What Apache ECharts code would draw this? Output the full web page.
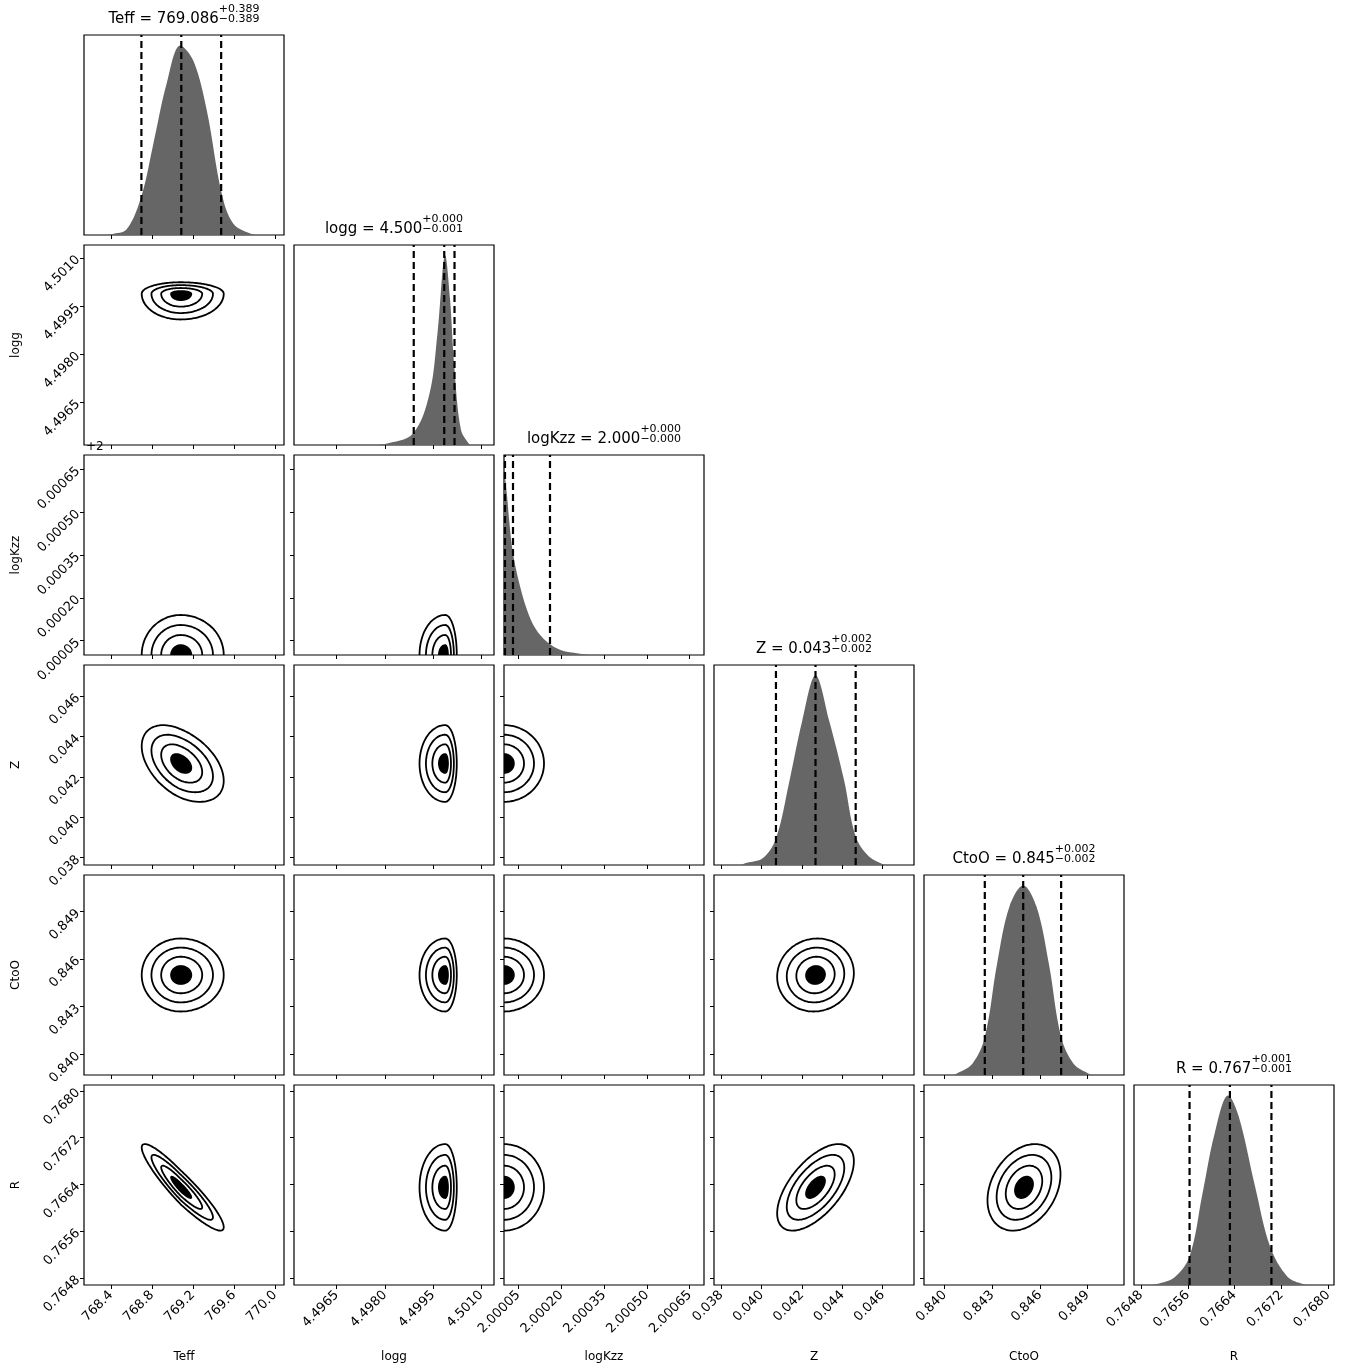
<!DOCTYPE html>
<html><head><meta charset="utf-8">
<script src="https://cdn.jsdelivr.net/npm/echarts@6/dist/echarts.min.js"></script>
<style>html,body{margin:0;padding:0;background:#fff}#c{width:1348px;height:1369px}</style>
</head><body><div id="c"></div>
<script>
// ---------- data ----------
const names = ['Teff', 'logg', 'logKzz', 'Z', 'CtoO', 'R'];
const titleMain = ['Teff = 769.086', 'logg = 4.500', 'logKzz = 2.000', 'Z = 0.043', 'CtoO = 0.845', 'R = 0.767'];
const titleUp = ['+0.389', '+0.000', '+0.000', '+0.002', '+0.002', '+0.001'];
const titleDn = ['\u22120.389', '\u22120.001', '\u22120.000', '\u22120.002', '\u22120.002', '\u22120.001'];
const axisMin = [768.137, 4.49517, 0.0, 0.03764, 0.8387, 0.76468];
const axisMax = [770.088, 4.5014, 0.0007, 0.04755, 0.8513, 0.7681];
const ticksTeff = [768.4, 768.8, 769.2, 769.6, 770.0];
const ticksLogg = [4.4965, 4.4980, 4.4995, 4.5010];
const ticksLogKzz = [0.00005, 0.0002, 0.00035, 0.0005, 0.00065]; // offset from 2
const ticksZ = [0.038, 0.040, 0.042, 0.044, 0.046];
const ticksCtoO = [0.840, 0.843, 0.846, 0.849];
const ticksR = [0.7648, 0.7656, 0.7664, 0.7672, 0.7680];
const quantTeff = [768.697, 769.086, 769.475];
const quantLogg = [4.49890, 4.49985, 4.50017];
const quantLogKzz = [0.0000035, 0.0000315, 0.000161];
const quantZ = [0.04071, 0.04267, 0.04466];
const quantCtoO = [0.84253, 0.84495, 0.84734];
const quantR = [0.76563, 0.76632, 0.76703];
// histogram outlines (value, relative height)
const histTeffX = [768.35, 768.407, 768.553, 768.700, 768.813, 768.944, 769.077, 769.203, 769.334, 769.480, 769.594, 769.779, 769.83];
const histTeffY = [0, 0.004, 0.03, 0.21, 0.48, 0.80, 1.0, 0.92, 0.66, 0.22, 0.06, 0.004, 0];
const histLoggX = [4.4977, 4.49799, 4.49887, 4.49939, 4.49964, 4.49988, 4.50003, 4.50016, 4.50037, 4.50063, 4.5007];
const histLoggY = [0, 0.005, 0.06, 0.27, 0.59, 1.0, 0.77, 0.42, 0.08, 0.004, 0];
const histLogKzzX = [0.0, 0.00001, 0.00002, 0.00003, 0.00005, 0.00008, 0.00011, 0.00015, 0.0002, 0.00026, 0.0003];
const histLogKzzY = [1.0, 0.85, 0.68, 0.55, 0.40, 0.24, 0.14, 0.07, 0.025, 0.008, 0];
const histZX = [0.0390, 0.03922, 0.04005, 0.04071, 0.04139, 0.04201, 0.04267, 0.04335, 0.04408, 0.04466, 0.04532, 0.04604, 0.0462];
const histZY = [0, 0.01, 0.035, 0.14, 0.45, 0.76, 1.0, 0.76, 0.45, 0.15, 0.045, 0.003, 0];
const histCtoOX = [0.8405, 0.84065, 0.84175, 0.84253, 0.84331, 0.84409, 0.84495, 0.84578, 0.84656, 0.84734, 0.84812, 0.84917, 0.8493];
const histCtoOY = [0, 0.003, 0.06, 0.20, 0.59, 0.89, 1.0, 0.89, 0.59, 0.20, 0.06, 0.003, 0];
const histRX = [0.7650, 0.76507, 0.76537, 0.76563, 0.76585, 0.76606, 0.76629, 0.76647, 0.76675, 0.76701, 0.76730, 0.76758, 0.7677];
const histRY = [0, 0.005, 0.04, 0.15, 0.48, 0.80, 1.0, 0.89, 0.52, 0.20, 0.045, 0.004, 0];
// contour shape parameters
const centre = [769.08, 4.49988, 0.0, 0.04267, 0.84500, 0.76635];
const spreadLo = [0.19, 0.00040, 0.00007, 0.00095, 0.00115, 0.00037];
const spreadHi = [0.21, 0.00018, 0.00007, 0.00095, 0.00115, 0.00037];
const corrPairs = [ // [row var, col var, correlation]
  [1, 0, 0.0], [2, 0, 0.0], [2, 1, 0.0], [3, 0, -0.45], [3, 1, 0.0], [3, 2, 0.0],
  [4, 0, 0.0], [4, 1, 0.0], [4, 2, 0.0], [4, 3, 0.05],
  [5, 0, -0.92], [5, 1, 0.0], [5, 2, 0.0], [5, 3, 0.6], [5, 4, 0.3]
];
const contourLevels = [2, 1.5, 1, 0.5];

const ticks = [ticksTeff, ticksLogg, ticksLogKzz, ticksZ, ticksCtoO, ticksR];
const quants = [quantTeff, quantLogg, quantLogKzz, quantZ, quantCtoO, quantR];
const histX = [histTeffX, histLoggX, histLogKzzX, histZX, histCtoOX, histRX];
const histY = [histTeffY, histLoggY, histLogKzzY, histZY, histCtoOY, histRY];

// ---------- layout ----------
const L0 = 84, T0 = 35, S = 200, G = 210, N = 6, YTOP = 1.055;
const FONT = 'DejaVu Sans';
function fmt(i, v, isX) {
  if (i === 0) return v.toFixed(1);
  if (i === 1) return v.toFixed(4);
  if (i === 2) return isX ? (2 + v).toFixed(5) : v.toFixed(5);
  if (i === 3) return v.toFixed(3);
  if (i === 4) return v.toFixed(3);
  return v.toFixed(4);
}
const grid = [], xAxis = [], yAxis = [], series = [], graphic = [];
function addPanel(row, col, diag) {
  const gi = grid.length;
  grid.push({left: L0 + G * col, top: T0 + G * row, width: S, height: S,
    show: true, borderColor: '#000', borderWidth: 1.2, backgroundColor: '#fff'});
  const bottom = row === N - 1;
  xAxis.push({type: 'value', gridIndex: gi, min: axisMin[col], max: axisMax[col],
    axisLine: {show: false}, splitLine: {show: false},
    axisTick: {show: true, length: 4, inside: false, customValues: ticks[col], lineStyle: {color: '#000', width: 1}},
    axisLabel: {show: bottom, customValues: ticks[col], rotate: 45, margin: 8, fontFamily: FONT, fontSize: 13, color: '#000',
      formatter: v => fmt(col, v, true)},
    name: bottom ? names[col] : '', nameLocation: 'middle', nameGap: 66,
    nameTextStyle: {fontFamily: FONT, fontSize: 12, color: '#000'}});
  if (diag) {
    yAxis.push({type: 'value', gridIndex: gi, min: 0, max: YTOP, show: true,
      axisLine: {show: false}, splitLine: {show: false}, axisTick: {show: false}, axisLabel: {show: false}});
  } else {
    const left = col === 0;
    yAxis.push({type: 'value', gridIndex: gi, min: axisMin[row], max: axisMax[row],
      axisLine: {show: false}, splitLine: {show: false},
      axisTick: {show: true, length: 4, customValues: ticks[row], lineStyle: {color: '#000', width: 1}},
      axisLabel: {show: left, customValues: ticks[row], rotate: 45, margin: 6, fontFamily: FONT, fontSize: 13, color: '#000',
        formatter: v => fmt(row, v, false)},
      name: left ? names[row] : '', nameLocation: 'middle', nameGap: 62, nameRotate: 90,
      nameTextStyle: {fontFamily: FONT, fontSize: 12, color: '#000'}});
  }
  return gi;
}

// diagonal panels
for (let i = 0; i < N; i++) {
  const gi = addPanel(i, i, true);
  series.push({type: 'line', xAxisIndex: gi, yAxisIndex: gi, smooth: 0.35, symbol: 'none',
    data: histX[i].map((x, k) => [x, histY[i][k]]),
    lineStyle: {width: 0}, areaStyle: {color: '#666666', opacity: 1}, silent: true, clip: true});
  quants[i].forEach(q => {
    series.push({type: 'line', xAxisIndex: gi, yAxisIndex: gi, symbol: 'none', silent: true, clip: true,
      data: [[q, 0], [q, YTOP]], lineStyle: {color: '#000', type: [7, 4], width: 2.2}});
  });
}
// off-diagonal contour panels
corrPairs.forEach(([r, c, rho]) => {
  const gi = addPanel(r, c, false);
  series.push({type: 'custom', xAxisIndex: gi, yAxisIndex: gi, clip: true, silent: true,
    data: [[centre[c], centre[r]]],
    renderItem: function (params, api) {
      const mx = api.value(0), my = api.value(1);
      const children = [];
      contourLevels.forEach(lv => {
        const pts = [];
        for (let k = 0; k < 120; k++) {
          const t = 2 * Math.PI * k / 120;
          const dx = lv * Math.cos(t);
          const dy = lv * (rho * Math.cos(t) + Math.sqrt(1 - rho * rho) * Math.sin(t));
          const vx = mx + dx * (dx < 0 ? spreadLo[c] : spreadHi[c]);
          const vy = my + dy * (dy < 0 ? spreadLo[r] : spreadHi[r]);
          pts.push(api.coord([vx, vy]));
        }
        children.push({type: 'polygon', shape: {points: pts, smooth: 0.2},
          style: lv === 0.5 ? {fill: '#000', stroke: '#000', lineWidth: 1.5} : {fill: null, stroke: '#000', lineWidth: 1.8}});
      });
      return {type: 'group', children};
    }});
});

// titles with super/subscripts
const meas = document.createElement('canvas').getContext('2d');
for (let i = 0; i < N; i++) {
  meas.font = '15px "' + FONT + '"';
  const w1 = meas.measureText(titleMain[i]).width;
  meas.font = '11px "' + FONT + '"';
  const w2 = Math.max(meas.measureText(titleUp[i]).width, meas.measureText(titleDn[i]).width);
  const cx = L0 + G * i + S / 2;
  const x0 = cx - (w1 + w2) / 2;
  const yb = T0 + G * i - 6;
  graphic.push({type: 'text', left: x0, top: yb - 17, style: {text: titleMain[i], font: '15px "' + FONT + '"', fill: '#000'}});
  graphic.push({type: 'text', left: x0 + w1, top: yb - 25, style: {text: titleUp[i], font: '11px "' + FONT + '"', fill: '#000'}});
  graphic.push({type: 'text', left: x0 + w1, top: yb - 15, style: {text: titleDn[i], font: '11px "' + FONT + '"', fill: '#000'}});
}
graphic.push({type: 'text', left: 86, top: T0 + G * 2 - 14, style: {text: '+2', font: '12px "' + FONT + '"', fill: '#000'}});

const chart = echarts.init(document.getElementById('c'), null, {renderer: 'canvas'});
chart.setOption({animation: false, backgroundColor: '#fff', grid, xAxis, yAxis, series, graphic});
</script></body></html>
